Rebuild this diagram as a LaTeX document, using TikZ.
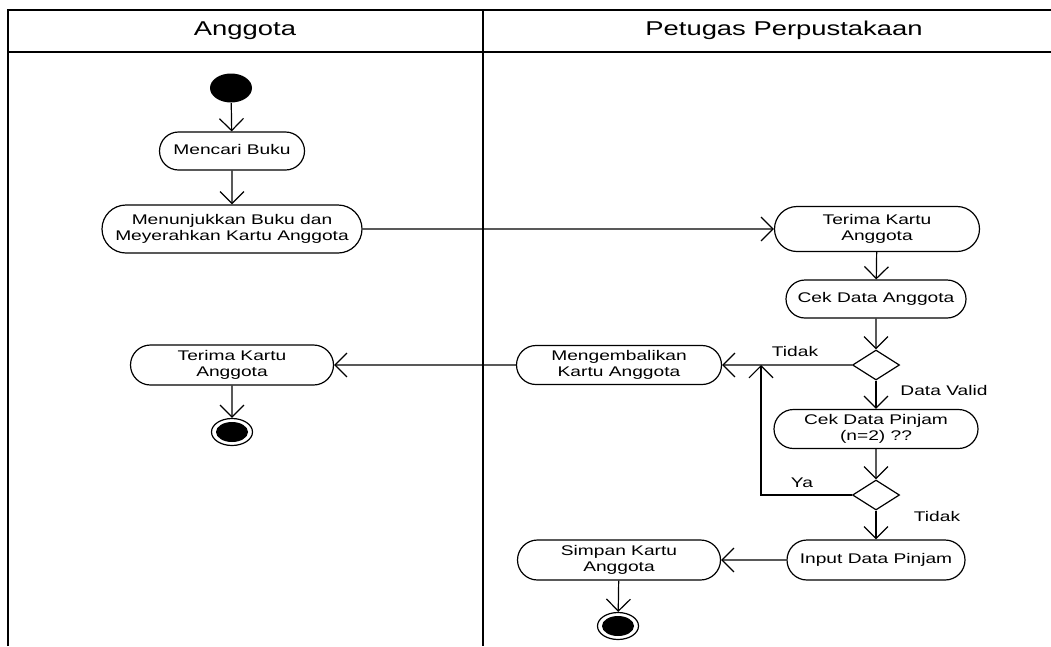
\documentclass[tikz,border=0pt]{standalone}
\usepackage{fontspec}
\setmainfont{Liberation Sans}
\usepackage{graphicx}
\usetikzlibrary{arrows.meta,shapes.misc,shapes.geometric}
\newcommand{\teks}[1]{\scalebox{1.37}[1]{\begin{tabular}{@{}c@{}}#1\end{tabular}}}
\tikzset{
  aksi/.style={draw,rounded rectangle,inner sep=0pt,font=\fontsize{14}{16.5}\selectfont},
  putusan/.style={draw,diamond,inner sep=0pt,minimum width=47pt,minimum height=30pt},
  mulai/.style={fill=black,ellipse,inner sep=0pt,minimum width=42pt,minimum height=29pt},
  selesai/.style={draw,ellipse,inner sep=0pt,minimum width=41pt,minimum height=27pt,
    path picture={\fill[black] (path picture bounding box.center) ellipse (16pt and 10pt);}},
  ket/.style={font=\fontsize{14}{16.5}\selectfont},
  judul/.style={font=\fontsize{20}{24}\selectfont}
}

\begin{document}
\begin{tikzpicture}[x=1pt,y=-1pt,line width=1.2pt,>={Straight Barb[length=12pt,width=24pt]}]
\useasboundingbox (0,0) rectangle (1051,646);
% lajur
\draw (8,646) -- (8,10) -- (1051,10);
\draw (8,52) -- (1051,52);
\draw (483,10) -- (483,646);
\node[judul] (lajurA) at (245,31) {\teks{Anggota}};
\node[judul] (lajurP) at (784,31) {\teks{Petugas Perpustakaan}};
% anggota
\node[mulai] (awal) at (231,88) {};
\node[aksi,minimum width=145pt,minimum height=38pt] (cari) at (232,151) {\teks{Mencari Buku}};
\node[aksi,minimum width=260pt,minimum height=48pt] (tunjuk) at (232,229) {\teks{Menunjukkan Buku dan\\Meyerahkan Kartu Anggota}};
\node[aksi,minimum width=203pt,minimum height=40pt] (terimaA) at (232,365) {\teks{Terima Kartu\\Anggota}};
\node[selesai] (akhirA) at (232,432) {};
% petugas
\node[aksi,minimum width=205pt,minimum height=45pt] (terimaP) at (877,229) {\teks{Terima Kartu\\Anggota}};
\node[aksi,minimum width=180pt,minimum height=38pt] (cekAgt) at (876,299) {\teks{Cek Data Anggota}};
\node[putusan] (cek1) at (876,365) {};
\node[aksi,minimum width=205pt,minimum height=39pt] (kembali) at (619,365) {\teks{Mengembalikan\\Kartu Anggota}};
\node[aksi,minimum width=204pt,minimum height=39pt] (cekPinjam) at (876,429) {\teks{Cek Data Pinjam\\(n=2) ??}};
\node[putusan] (cek2) at (876,495) {};
\node[aksi,minimum width=178pt,minimum height=40pt] (input) at (876,560) {\teks{Input Data Pinjam}};
\node[aksi,minimum width=203pt,minimum height=40pt] (simpan) at (619,560) {\teks{Simpan Kartu\\Anggota}};
\node[selesai] (akhirP) at (618,626) {};
\coordinate (ya) at (761,495);
% alur
\draw[->] (awal) -- (cari);
\draw[->] (cari) -- (tunjuk);
\draw[->] (tunjuk) -- (terimaP);
\draw[->] (terimaP) -- (cekAgt);
\draw[->] (cekAgt) -- (cek1);
\draw[->] (cek1) -- (kembali);
\draw[->] (cek1) -- (cekPinjam);
\draw[->] (cekPinjam) -- (cek2);
\draw[->] (cek2) -- (ya) -- (ya |- cek1);
\draw[->] (cek2) -- (input);
\draw[->] (input) -- (simpan);
\draw[->] (simpan) -- (akhirP);
\draw[->] (kembali) -- (terimaA);
\draw[->] (terimaA) -- (akhirA);
\node[ket] at (795,353) {\teks{Tidak}};
\node[ket] at (944,392) {\teks{Data Valid}};
\node[ket] at (802,484) {\teks{Ya}};
\node[ket] at (937,518) {\teks{Tidak}};
\end{tikzpicture}
\end{document}
